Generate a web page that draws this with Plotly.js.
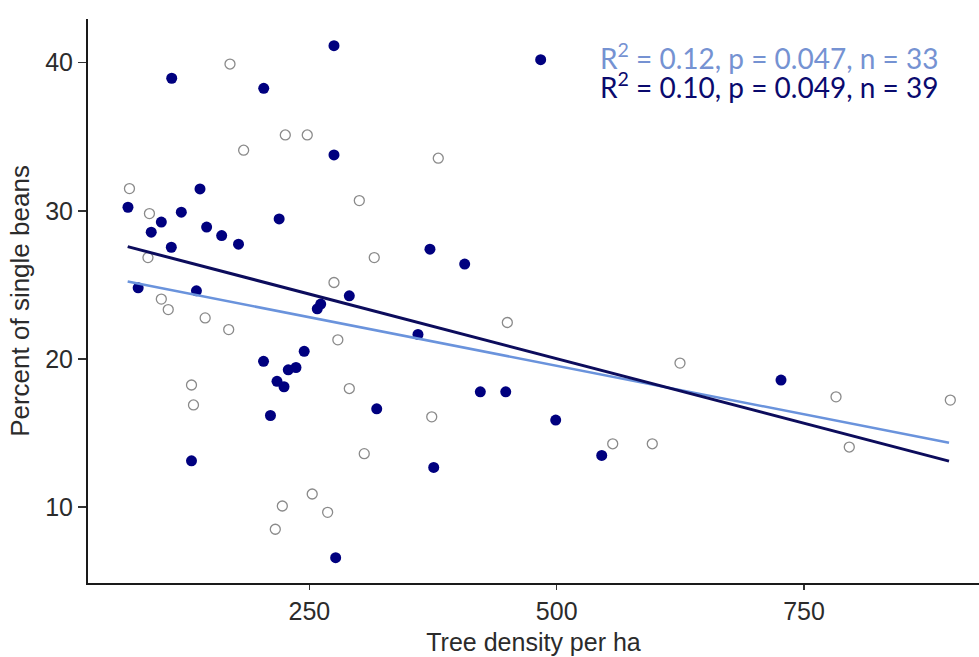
<!DOCTYPE html>
<html>
<head>
<meta charset="utf-8">
<script src="https://cdn.plot.ly/plotly-3.0.1.min.js"></script>
<style>html,body{margin:0;padding:0;background:#fff;}#chart{width:979px;height:657px;}</style>
</head>
<body>
<div id="chart"></div>
<script>
// Filled (navy) points: tree density, percent single beans (n = 39)
const filledX = [110.9, 203.9, 274.9, 483.8, 274.9, 139.5, 66.7, 120.6, 100.4, 90.2,
  146.2, 161.4, 178.4, 110.5, 219.5, 77.0, 135.9, 258.0, 261.5, 290.4,
  371.9, 407.0, 359.8, 203.7, 244.8, 228.7, 236.5, 217.3, 224.4, 210.7,
  130.9, 276.6, 318.1, 375.7, 422.8, 448.5, 499.0, 545.5, 726.7];
const filledY = [38.95, 38.27, 41.15, 40.20, 33.77, 31.48, 30.24, 29.91, 29.24, 28.56,
  28.90, 28.33, 27.75, 27.54, 29.45, 24.80, 24.60, 23.38, 23.70, 24.26,
  27.41, 26.40, 21.65, 19.84, 20.51, 19.26, 19.42, 18.49, 18.12, 16.18,
  13.12, 6.58, 16.63, 12.67, 17.78, 17.78, 15.87, 13.48, 18.57];

// Open (grey) points
const openX = [169.8, 225.7, 247.9, 183.6, 68.2, 88.4, 86.9, 100.4, 107.4, 144.7,
  168.5, 130.9, 132.9, 222.7, 215.6, 252.9, 268.5, 300.5, 380.3, 315.6,
  274.9, 278.8, 290.4, 305.5, 373.7, 450.1, 556.6, 596.6, 624.6, 782.3,
  795.7, 897.8];
const openY = [39.91, 35.12, 35.12, 34.09, 31.50, 29.81, 26.84, 24.04, 23.33, 22.77,
  21.98, 18.24, 16.89, 10.07, 8.50, 10.88, 9.64, 30.69, 33.55, 26.84,
  25.16, 21.29, 18.00, 13.60, 16.09, 22.46, 14.27, 14.27, 19.72, 17.44,
  14.05, 17.22];

// Fitted lines (endpoints)
const fitX = [66.4, 896.5];
const fitDarkY = [27.58, 13.10];
const fitLightY = [25.22, 14.34];

const xTicks = [250, 500, 750];
const yTicks = [10, 20, 30, 40];

const statLight = "R<sup>2</sup> = 0.12, p = 0.047, n = 33";
const statDark = "R<sup>2</sup> = 0.10, p = 0.049, n = 39";

const navy = "#00007f";
const lightBlue = "#6a93dc";

const traces = [
  {x: openX, y: openY, type: "scatter", mode: "markers",
   marker: {symbol: "circle-open", size: 10, color: "#8a8a8a", line: {width: 1.3, color: "#8a8a8a"}},
   hoverinfo: "skip"},
  {x: filledX, y: filledY, type: "scatter", mode: "markers",
   marker: {symbol: "circle", size: 11, color: navy, line: {width: 0}},
   hoverinfo: "skip"},
  {x: fitX, y: fitLightY, type: "scatter", mode: "lines",
   line: {color: lightBlue, width: 2.5}, hoverinfo: "skip"},
  {x: fitX, y: fitDarkY, type: "scatter", mode: "lines",
   line: {color: "#0c0c5c", width: 3}, hoverinfo: "skip"}
];

const layout = {
  width: 979, height: 657,
  margin: {l: 88, r: 0, t: 19, b: 74, pad: 0},
  paper_bgcolor: "#fff", plot_bgcolor: "#fff",
  showlegend: false,
  font: {family: "Liberation Sans, Arial, sans-serif", color: "#2b2b2b"},
  xaxis: {
    range: [26.3, 926.8], tickvals: xTicks, ticktext: xTicks.map(String),
    showgrid: false, zeroline: false,
    showline: true, linecolor: "#1a1a1a", linewidth: 2,
    ticks: "outside", ticklen: 5, tickwidth: 1.5, tickcolor: "#333",
    tickfont: {size: 25, color: "#2b2b2b"},
    title: {text: "Tree density per ha", font: {size: 25, color: "#2b2b2b"}, standoff: 9}
  },
  yaxis: {
    range: [4.87, 42.95], tickvals: yTicks, ticktext: yTicks.map(String),
    showgrid: false, zeroline: false,
    showline: true, linecolor: "#1a1a1a", linewidth: 2,
    ticks: "outside", ticklen: 8, tickwidth: 1.5, tickcolor: "#333",
    tickfont: {size: 25, color: "#2b2b2b"},
    title: {text: "Percent of single beans", font: {size: 26, color: "#2b2b2b"}, standoff: 8}
  },
  annotations: [
    {x: 887.4, y: 40.45, xref: "x", yref: "y", xanchor: "right", yanchor: "middle",
     text: statLight, showarrow: false, font: {family: "Lato, Carlito, sans-serif", size: 28, color: "#7592d2"}},
    {x: 887.4, y: 38.43, xref: "x", yref: "y", xanchor: "right", yanchor: "middle",
     text: statDark, showarrow: false, font: {family: "Lato, Carlito, sans-serif", size: 28, color: "#0a0a6e"}}
  ]
};

Plotly.newPlot("chart", traces, layout, {staticPlot: true, displayModeBar: false});
</script>
</body>
</html>
